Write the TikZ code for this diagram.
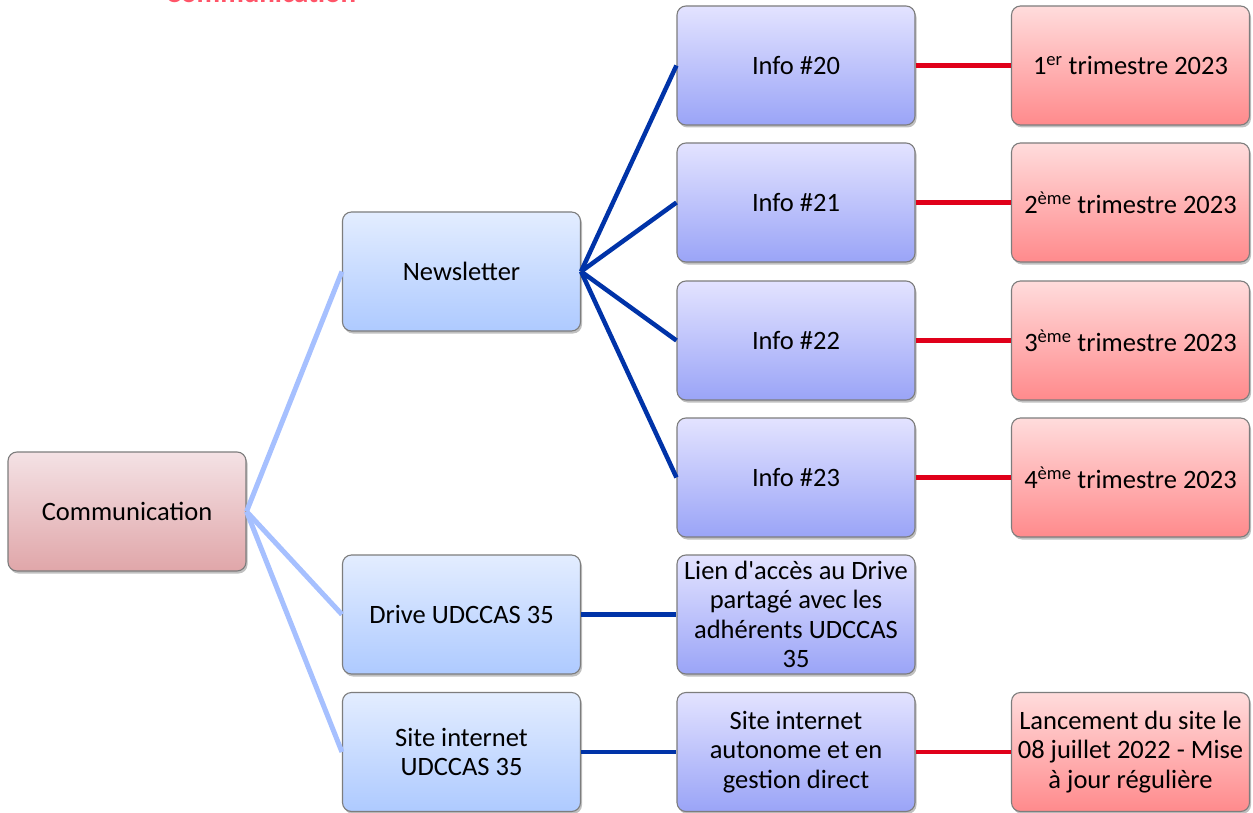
\documentclass[tikz,border=0pt]{standalone}
\usepackage{fontspec}
\setmainfont{Carlito}
\usetikzlibrary{shadows}
\definecolor{lnlight}{HTML}{A6C0FF}
\definecolor{lndark}{HTML}{0033A8}
\definecolor{lnred}{HTML}{E0001A}
\definecolor{cmtop}{HTML}{F4E2E5}
\definecolor{cmbot}{HTML}{E0A6A9}
\definecolor{bltop}{HTML}{E3EDFF}
\definecolor{blbot}{HTML}{AECAFF}
\definecolor{vitop}{HTML}{E3E3FF}
\definecolor{vibot}{HTML}{9AA4F7}
\definecolor{rdtop}{HTML}{FFDCDC}
\definecolor{rdbot}{HTML}{FF8A8C}
\definecolor{ttlred}{HTML}{FF5468}
\tikzset{
  boxbase/.style={draw={rgb,255:red,125;green,125;blue,125}, line width=1.1pt, rounded corners=9pt,
    minimum width=238pt, minimum height=119pt, inner sep=2pt, align=center,
    font=\fontsize{26.5}{29.5}\selectfont,
    drop shadow={shadow xshift=1.5pt, shadow yshift=-2.5pt, opacity=0.35, fill=black!70}},
  cmbox/.style={boxbase, top color=cmtop, bottom color=cmbot},
  blbox/.style={boxbase, top color=bltop, bottom color=blbot},
  vibox/.style={boxbase, top color=vitop, bottom color=vibot},
  rdbox/.style={boxbase, top color=rdtop, bottom color=rdbot},
  lnA/.style={lnlight, line width=5pt},
  lnB/.style={lndark, line width=4.5pt},
  lnC/.style={lnred, line width=4.5pt},
}
\begin{document}
\begin{tikzpicture}[x=1pt,y=-1pt]
\useasboundingbox (0,0) rectangle (1253,813);
\fill[white] (0,0) rectangle (1253,813);
\node[anchor=base, text=ttlred, font=\fontsize{29}{32}\selectfont\bfseries] (ttl) at (261,3) {Communication};

\node[cmbox] (comm) at (127,511.5) {Communication};

\node[blbox] (news) at (461.5,271.5) {Newsletter};
\node[blbox] (drive) at (461.5,614.5) {Drive UDCCAS 35};
\node[blbox] (site) at (461.5,752) {Site internet\\UDCCAS 35};

\node[vibox] (i20) at (796,65.5) {Info \#20};
\node[vibox] (i21) at (796,202.5) {Info \#21};
\node[vibox] (i22) at (796,340.5) {Info \#22};
\node[vibox] (i23) at (796,477.5) {Info \#23};
\node[vibox] (lien) at (796,614.5) {Lien d\textquotesingle accès au Drive\\partagé avec les\\adhérents UDCCAS\\35};
\node[vibox] (auto) at (796,752) {Site internet\\autonome et en\\gestion direct};

\node[rdbox] (t1) at (1130.5,65.5) {1\textsuperscript{er} trimestre 2023};
\node[rdbox] (t2) at (1130.5,202.5) {2\textsuperscript{ème} trimestre 2023};
\node[rdbox] (t3) at (1130.5,340.5) {3\textsuperscript{ème} trimestre 2023};
\node[rdbox] (t4) at (1130.5,477.5) {4\textsuperscript{ème} trimestre 2023};
\node[rdbox] (lanc) at (1130.5,752) {Lancement du site le\\08 juillet 2022 - Mise\\à jour régulière};

\draw[lnA] (comm.east) -- (news.west);
\draw[lnA] (comm.east) -- (drive.west);
\draw[lnA] (comm.east) -- (site.west);

\draw[lnB] (news.east) -- (i20.west);
\draw[lnB] (news.east) -- (i21.west);
\draw[lnB] (news.east) -- (i22.west);
\draw[lnB] (news.east) -- (i23.west);
\draw[lnB] (drive.east) -- (lien.west);
\draw[lnB] (site.east) -- (auto.west);

\draw[lnC] (i20.east) -- (t1.west);
\draw[lnC] (i21.east) -- (t2.west);
\draw[lnC] (i22.east) -- (t3.west);
\draw[lnC] (i23.east) -- (t4.west);
\draw[lnC] (auto.east) -- (lanc.west);
\end{tikzpicture}
\end{document}
